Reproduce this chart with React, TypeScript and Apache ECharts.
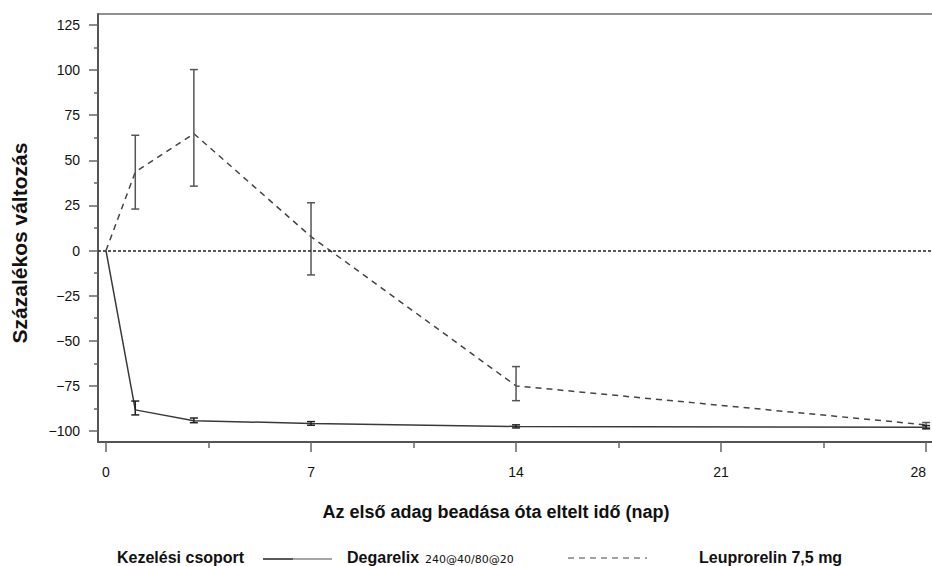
import React, { useEffect, useRef } from "react";
import * as echarts from "echarts";

const days = [0, 1, 3, 7, 14, 28];
const degarelix = [0, -88.3, -94.3, -95.8, -97.5, -97.9];
const degLow = [null, -91.1, -95.4, -96.8, -98.3, -98.8];
const degHigh = [null, -83.4, -92.8, -94.8, -96.6, -97.0];
const leuprorelin = [0, 43.5, 64.8, 7.7, -75.0, -96.6];
const leupLow = [null, 23.0, 35.7, -13.5, -83.2, -98.3];
const leupHigh = [null, 63.9, 100.3, 26.5, -64.3, -95.3];

const xMajorTicks = [0, 7, 14, 21, 28];
const xMinorTicks = [3.5, 10.5, 17.5, 24.5];
const yMajorTicks = [125, 100, 75, 50, 25, 0, -25, -50, -75, -100];
const yMinorTicks = [112.5, 87.5, 62.5, 37.5, 12.5, -12.5, -37.5, -62.5, -87.5];

const yTitle = "Százalékos változás";
const xTitle = "Az első adag beadása óta eltelt idő (nap)";
const legendTitle = "Kezelési csoport";
const degName = "Degarelix";
const degSub = "240@40/80@20";
const leupName = "Leuprorelin 7,5 mg";

const FONT = "'Liberation Sans', Arial, Helvetica, sans-serif";
const X_MIN = -0.273;
const X_MAX = 28.235;
const Y_MIN = -106.1;
const Y_MAX = 131.1;

function errorBars(low: (number | null)[], high: (number | null)[]) {
  const out: number[][] = [];
  days.forEach((d, i) => {
    if (low[i] !== null && high[i] !== null) out.push([d, low[i] as number, high[i] as number]);
  });
  return out;
}

function makeErrorRender(color: string) {
  return (params: any, api: any) => {
    const x = api.value(0);
    const lo = api.coord([x, api.value(1)]);
    const hi = api.coord([x, api.value(2)]);
    const w = 4;
    const style = { stroke: color, lineWidth: 1.5 };
    return {
      type: "group",
      children: [
        { type: "line", shape: { x1: lo[0], y1: lo[1], x2: hi[0], y2: hi[1] }, style },
        { type: "line", shape: { x1: lo[0] - w, y1: lo[1], x2: lo[0] + w, y2: lo[1] }, style },
        { type: "line", shape: { x1: hi[0] - w, y1: hi[1], x2: hi[0] + w, y2: hi[1] }, style },
      ],
    };
  };
}

export default function App() {
  const ref = useRef<HTMLDivElement>(null);
  useEffect(() => {
    if (!ref.current) return;
    const chart = echarts.init(ref.current, null, { renderer: "svg" });
    const axisCommonX = {
      type: "value",
      min: X_MIN,
      max: X_MAX,
      position: "bottom",
      splitLine: { show: false },
    };
    const axisCommonY = {
      type: "value",
      min: Y_MIN,
      max: Y_MAX,
      position: "left",
      splitLine: { show: false },
    };
    chart.setOption({
      animation: false,
      backgroundColor: "#ffffff",
      grid: {
        left: 98,
        right: -1,
        top: 14,
        bottom: 124,
        show: true,
        borderColor: "#222",
        borderWidth: 1,
        backgroundColor: "transparent",
        containLabel: false,
        outerBoundsMode: "none",
      },
      xAxis: [
        {
          ...axisCommonX,
          axisLine: { show: true, onZero: false, lineStyle: { color: "#555", width: 2 } },
          axisTick: { show: true, customValues: xMajorTicks, length: 10, lineStyle: { color: "#666", width: 1.5 } },
          axisLabel: {
            customValues: xMajorTicks,
            margin: 23,
            color: "#111",
            fontSize: 14,
            fontFamily: FONT,
            hideOverlap: false,
            alignMaxLabel: "right",
          },
        },
        {
          ...axisCommonX,
          axisLine: { show: false, onZero: false },
          axisTick: { show: true, customValues: xMinorTicks, length: 6, lineStyle: { color: "#666", width: 1.5 } },
          axisLabel: { show: false },
        },
      ],
      yAxis: [
        {
          ...axisCommonY,
          axisLine: { show: true, onZero: false, lineStyle: { color: "#555", width: 2 } },
          axisTick: { show: true, customValues: yMajorTicks, length: 9, lineStyle: { color: "#666", width: 1.5 } },
          axisLabel: {
            customValues: yMajorTicks,
            margin: 18,
            color: "#111",
            fontSize: 14,
            fontFamily: FONT,
            formatter: (v: number) => String(v).replace("-", "\u2212"),
          },
        },
        {
          ...axisCommonY,
          axisLine: { show: false, onZero: false },
          axisTick: { show: true, customValues: yMinorTicks, length: 4, lineStyle: { color: "#666", width: 1.5 } },
          axisLabel: { show: false },
        },
      ],
      series: [
        {
          name: leupName,
          type: "line",
          data: days.map((d, i) => [d, leuprorelin[i]]),
          symbol: "none",
          lineStyle: { color: "#444", width: 1.5, type: [6, 5] },
          z: 3,
          markLine: {
            silent: true,
            symbol: "none",
            label: { show: false },
            lineStyle: { color: "#222", width: 1.5, type: [3, 2] },
            data: [{ yAxis: 0 }],
          },
        },
        {
          name: degName,
          type: "line",
          data: days.map((d, i) => [d, degarelix[i]]),
          symbol: "none",
          lineStyle: { color: "#3a3a3a", width: 1.5, type: "solid" },
          z: 3,
        },
        {
          type: "custom",
          renderItem: makeErrorRender("#555"),
          data: errorBars(leupLow, leupHigh),
          encode: { x: 0, y: [1, 2] },
          z: 4,
        },
        {
          type: "custom",
          renderItem: makeErrorRender("#222"),
          data: errorBars(degLow, degHigh),
          encode: { x: 0, y: [1, 2] },
          z: 4,
        },
      ],
      graphic: [
        {
          type: "text",
          x: 19,
          y: 243,
          rotation: Math.PI / 2,
          style: {
            text: yTitle,
            fontFamily: FONT,
            fontWeight: "bold",
            fontSize: 21,
            fill: "#111",
            textAlign: "center",
            textVerticalAlign: "middle",
          },
        },
        {
          type: "text",
          x: 496,
          y: 512,
          style: {
            text: xTitle,
            fontFamily: FONT,
            fontWeight: "bold",
            fontSize: 18,
            fill: "#111",
            textAlign: "center",
            textVerticalAlign: "middle",
          },
        },
        {
          type: "text",
          x: 117,
          y: 557,
          style: {
            text: legendTitle,
            fontFamily: FONT,
            fontWeight: "bold",
            fontSize: 16,
            fill: "#111",
            textAlign: "left",
            textVerticalAlign: "middle",
          },
        },
        {
          type: "line",
          shape: { x1: 263, y1: 559, x2: 293, y2: 559 },
          style: { stroke: "#222", lineWidth: 1.5 },
        },
        {
          type: "line",
          shape: { x1: 293, y1: 559, x2: 332, y2: 559 },
          style: { stroke: "#888", lineWidth: 1.5 },
        },
        {
          type: "text",
          x: 347,
          y: 557,
          style: {
            text: degName,
            fontFamily: FONT,
            fontWeight: "bold",
            fontSize: 16,
            fill: "#111",
            textAlign: "left",
            textVerticalAlign: "middle",
          },
        },
        {
          type: "text",
          x: 425,
          y: 559.5,
          style: {
            text: degSub,
            fontFamily: "'DejaVu Sans', sans-serif",
            fontSize: 11,
            fill: "#111",
            textAlign: "left",
            textVerticalAlign: "middle",
          },
        },
        {
          type: "line",
          shape: { x1: 568, y1: 558, x2: 647, y2: 558 },
          style: { stroke: "#444", lineWidth: 1.2, lineDash: [6, 5] },
        },
        {
          type: "text",
          x: 699,
          y: 557,
          style: {
            text: leupName,
            fontFamily: FONT,
            fontWeight: "bold",
            fontSize: 16,
            fill: "#111",
            textAlign: "left",
            textVerticalAlign: "middle",
          },
        },
      ],
    });
    return () => chart.dispose();
  }, []);
  return (
    <div
      ref={ref}
      style={{ position: "fixed", left: 0, top: 0, width: 932, height: 566, background: "#fff" }}
    />
  );
}
